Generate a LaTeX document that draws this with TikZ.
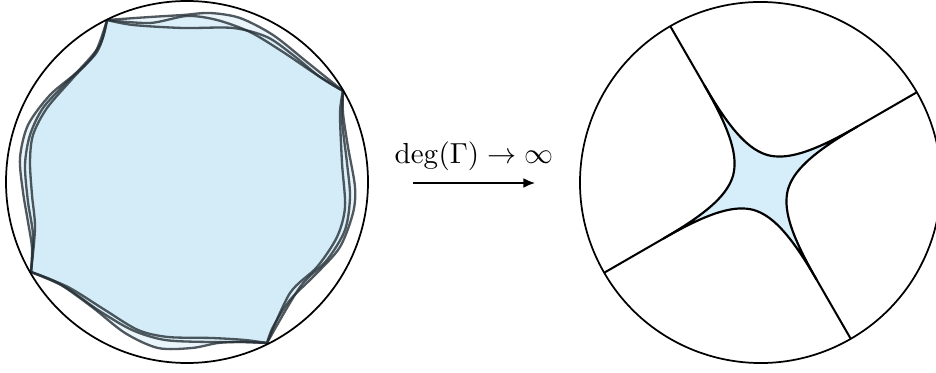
\documentclass[tikz,border=0pt]{standalone}
\usepackage{amsmath,amssymb}
\usepackage{xcolor}
\definecolor{wfill}{HTML}{C8E7F6}
\definecolor{sfill}{HTML}{D6EEF9}
\definecolor{wline}{HTML}{263036}
\usetikzlibrary{arrows.meta,calc}
\tikzset{
  >={Latex[length=4pt,width=3.4pt]},
  disk/.style={draw=black,line width=0.6pt},
  wfill/.style={fill=wfill,fill opacity=0.4},
  wdraw/.style={draw=wline,draw opacity=0.8,line width=0.8pt,line join=round},
  geo/.style={draw=black,line width=0.7pt},
  star/.style={draw=black,line width=0.75pt,fill=sfill,line join=round},
  lab/.style={font=\normalsize,inner sep=3.33pt},
}
% the three wiggly quadrilaterals
\def\wigo{(A)
  -- plot[smooth] coordinates {(A) (150,355) (183,357) (210,359) (240,354) (273,337) (307,310) (B)}
  -- plot[smooth] coordinates {(B) (343,259) (348,225) (355,185) (353,159) (340,125) (317,99) (290,72) (273,45) (C)}
  -- plot[smooth] coordinates {(C) (242,30) (218,29) (192,24) (158,24) (125,39) (92,65) (58,89) (D)}
  -- plot[smooth] coordinates {(D) (32,124) (28,150) (23,180) (20,214) (28,247) (50,277) (77,300) (100,327) (A)}
  -- cycle}
\def\wigm{(A)
  -- plot[smooth] coordinates {(A) (150,349) (187,356) (217,352) (250,340) (283,320) (317,297) (B)}
  -- plot[smooth] coordinates {(B) (342,252) (347,209) (350,175) (345,142) (327,112) (300,85) (C)}
  -- plot[smooth] coordinates {(C) (242,30) (208,30) (165,32) (132,42) (98,62) (65,85) (D)}
  -- plot[smooth] coordinates {(D) (33,137) (28,170) (25,207) (30,237) (43,264) (67,290) (97,320) (A)}
  -- cycle}
\def\wigi{(A)
  -- plot[smooth] coordinates {(A) (133,347) (183,344) (233,344) (267,335) (293,317) (320,295) (B)}
  -- plot[smooth] coordinates {(B) (340,259) (342,209) (345,165) (337,135) (317,105) (290,79) (C)}
  -- plot[smooth] coordinates {(C) (245,32) (212,34) (168,35) (138,42) (105,62) (68,85) (D)}
  -- plot[smooth] coordinates {(D) (35,144) (32,177) (30,210) (33,237) (47,264) (73,294) (95,319) (A)}
  -- cycle}

\begin{document}
\begin{tikzpicture}[x=0.345pt,y=0.345pt]
\useasboundingbox (0,0) rectangle (936,372);

% left: wiggly ideal quadrilaterals
\coordinate (L) at (187,190);
\coordinate (A) at (107,352);
\coordinate (B) at (343,281);
\coordinate (C) at (267,29);
\coordinate (D) at (31,100);
\foreach \w in {\wigo,\wigm,\wigi} \path[wfill] \w;
\foreach \w in {\wigo,\wigm,\wigi} \path[wdraw] \w;
\draw[disk] (L) circle[radius=181];

% arrow
\coordinate (a0) at (413,189);
\coordinate (a1) at (535,189);
\draw[->,line width=0.6pt] (a0) -- node[lab,above=0.7pt] (deg) {$\deg(\Gamma)\to\infty$} (a1);

% right: limit
\begin{scope}[shift={(760.5,189.5)},rotate=30]
\coordinate (e0) at (0:180.5);
\coordinate (e1) at (90:180.5);
\coordinate (e2) at (180:180.5);
\coordinate (e3) at (270:180.5);
\draw[geo] (e0) -- (e2);
\draw[geo] (e1) -- (e3);
\path[star] (0:112) \foreach \a in {0,90,180,270}{
  .. controls (\a:56) and (\a+12.5:34) .. (\a+45:28.3)
  .. controls (\a+77.5:34) and (\a+90:56) .. (\a+90:112)} -- cycle;
\draw[disk] (0,0) circle[radius=180.5];
\end{scope}
\end{tikzpicture}
\end{document}
